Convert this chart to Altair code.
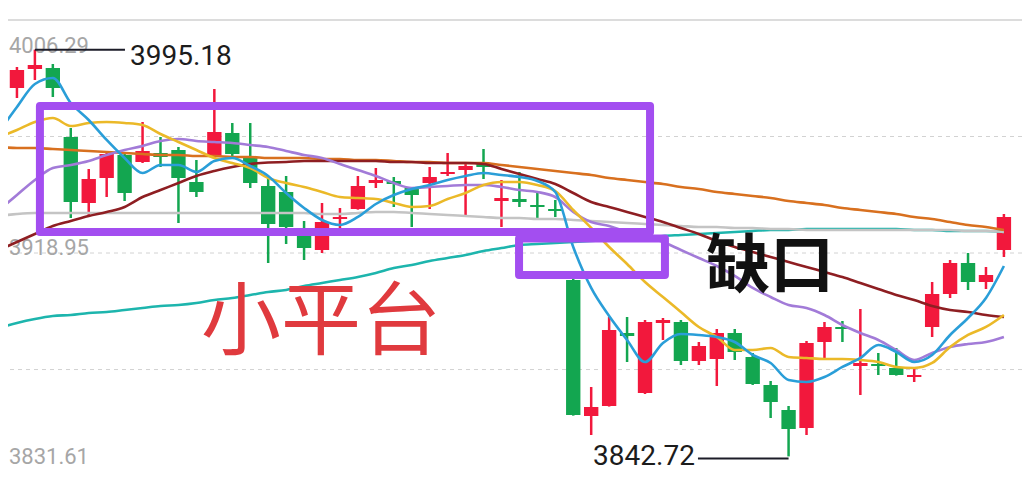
import altair as alt
import pandas as pd

# ---------------- candle data (index, OHLC) ----------------
opens = [3979.7, 3980.80, 3987.92, 3988.30, 3962.44, 3937.70, 3947.07, 3955.69, 3953.07, 3956.44,
         3957.56, 3945.57, 3955.32, 3963.94, 3954.57, 3944.07, 3941.82, 3928.33, 3920.08, 3931.70,
         3935.45, 3945.20, 3945.95, 3943.32, 3945.20, 3948.57, 3950.07, 3952.69, 3938.45, 3939.20,
         3936.95, 3935.45, 3908.84, 3857.86, 3861.61, 3888.97, 3866.48, 3892.72, 3893.10, 3878.48,
         3879.23, 3888.97, 3879.98, 3869.48, 3860.11, 3853.37, 3885.60, 3891.22, 3876.60, 3877.35,
         3875.86, 3872.48, 3891.22, 3903.59, 3915.21, 3908.09, 3920.08]
highs = [3983.0, 3988.67, 3995.18, 3989.80, 3965.81, 3950.44, 3956.50, 3956.82, 3968.06, 3962.44,
         3958.69, 3953.82, 3980.43, 3967.68, 3967.68, 3947.07, 3947.82, 3930.95, 3937.70, 3935.83,
         3947.82, 3950.82, 3947.44, 3943.70, 3951.19, 3956.44, 3952.30, 3957.94, 3946.32, 3949.32,
         3941.45, 3938.82, 3909.50, 3868.73, 3894.97, 3894.97, 3893.85, 3894.60, 3893.85, 3885.60,
         3890.47, 3890.47, 3881.48, 3870.98, 3861.61, 3885.98, 3893.10, 3893.47, 3897.97, 3881.48,
         3883.35, 3876.23, 3908.09, 3916.33, 3918.96, 3913.71, 3933.58]
lows = [3976.3, 3977.05, 3983.80, 3977.43, 3932.08, 3932.45, 3939.95, 3938.45, 3952.70, 3951.19,
        3930.20, 3939.95, 3954.57, 3955.32, 3943.32, 3915.21, 3922.33, 3916.33, 3918.96, 3928.33,
        3935.20, 3943.32, 3936.20, 3928.70, 3935.45, 3947.82, 3933.20, 3946.69, 3928.70, 3936.20,
        3931.33, 3932.45, 3858.00, 3850.74, 3861.40, 3878.10, 3866.11, 3886.35, 3876.98, 3876.98,
        3869.11, 3878.85, 3869.50, 3857.11, 3842.72, 3850.74, 3879.60, 3885.60, 3865.74, 3873.23,
        3873.00, 3870.61, 3887.47, 3902.09, 3905.09, 3905.47, 3917.46]
closes = [3980.4, 3987.55, 3989.42, 3980.80, 3938.07, 3946.69, 3956.07, 3941.45, 3957.19, 3954.94,
          3947.07, 3941.82, 3964.31, 3956.07, 3945.20, 3929.83, 3928.70, 3920.83, 3930.58, 3932.45,
          3944.07, 3946.32, 3944.82, 3940.70, 3947.44, 3949.32, 3951.57, 3951.19, 3939.57, 3938.07,
          3936.20, 3934.70, 3858.24, 3861.24, 3890.10, 3887.85, 3893.10, 3893.85, 3878.48, 3884.10,
          3888.97, 3881.85, 3869.86, 3863.11, 3852.99, 3885.23, 3891.22, 3890.47, 3877.73, 3876.60,
          3873.23, 3873.23, 3903.59, 3915.21, 3908.09, 3910.71, 3932.45]

# ---------------- moving-average lines ----------------
ma5 = [3964.32, 3973.69, 3982.31, 3984.56, 3975.19, 3968.81, 3961.32, 3954.57, 3948.95, 3951.95,
       3951.95, 3949.32, 3953.45, 3954.57, 3951.57, 3947.83, 3941.45, 3935.83, 3931.33, 3929.46,
       3932.46, 3937.33, 3940.70, 3942.95, 3944.45, 3946.33, 3947.83, 3948.95, 3948.20, 3947.45,
       3945.95, 3941.83, 3921.21, 3905.85, 3895.35, 3886.36, 3878.11, 3885.23, 3888.61, 3888.23,
       3887.48, 3885.61, 3880.74, 3877.74, 3871.37, 3870.62, 3872.49, 3876.24, 3879.61, 3884.48,
       3881.86, 3878.11, 3880.74, 3888.23, 3894.60, 3902.10, 3914.09]
ma10 = [3962.44, 3965.07, 3968.06, 3969.56, 3966.57, 3967.69, 3968.06, 3967.69, 3966.94, 3963.57,
        3960.57, 3957.57, 3954.57, 3952.70, 3950.82, 3947.08, 3945.20, 3943.70, 3941.83, 3939.95,
        3939.58, 3939.20, 3937.71, 3936.21, 3936.58, 3939.20, 3941.45, 3944.45, 3945.58, 3945.58,
        3944.45, 3942.20, 3935.08, 3928.34, 3921.21, 3914.84, 3908.10, 3902.47, 3896.85, 3891.23,
        3887.48, 3882.61, 3882.61, 3883.36, 3879.99, 3879.61, 3879.24, 3879.24, 3878.86, 3878.11,
        3876.24, 3875.86, 3877.74, 3883.73, 3888.23, 3891.23, 3895.73]
ma20 = [3935.08, 3940.70, 3946.33, 3950.82, 3951.95, 3953.45, 3955.70, 3957.57, 3959.07, 3960.94,
        3961.69, 3960.94, 3960.57, 3960.19, 3959.44, 3958.69, 3957.20, 3955.70, 3954.57, 3952.32,
        3950.07, 3947.83, 3945.20, 3943.33, 3943.70, 3944.08, 3944.45, 3944.45, 3943.70, 3942.58,
        3941.83, 3939.95, 3934.33, 3930.58, 3929.09, 3926.84, 3925.34, 3923.09, 3920.09, 3917.09,
        3914.09, 3910.35, 3905.85, 3902.47, 3899.48, 3898.35, 3895.73, 3891.98, 3888.98, 3886.36,
        3882.61, 3878.86, 3881.49, 3883.73, 3884.86, 3885.61, 3887.48]
ma30 = [3920.09, 3923.09, 3926.09, 3929.09, 3930.96, 3932.83, 3934.33, 3936.21, 3939.95, 3942.58,
        3945.20, 3947.83, 3949.70, 3951.20, 3952.32, 3952.89, 3953.07, 3953.45, 3953.45, 3953.45,
        3953.45, 3953.45, 3953.07, 3953.07, 3952.70, 3952.70, 3952.70, 3952.32, 3950.45, 3948.57,
        3946.70, 3944.83, 3941.45, 3938.08, 3936.21, 3934.33, 3932.46, 3930.58, 3928.34, 3926.09,
        3923.46, 3921.21, 3919.34, 3917.47, 3915.59, 3913.72, 3911.84, 3909.97, 3907.72, 3905.47,
        3903.22, 3901.35, 3899.10, 3897.60, 3896.85, 3895.73, 3894.98]
ma60 = [3958.69, 3958.32, 3958.32, 3957.94, 3957.57, 3957.20, 3956.82, 3956.45, 3956.07, 3955.70,
        3955.70, 3955.32, 3955.32, 3954.95, 3954.95, 3954.57, 3954.57, 3954.57, 3954.20, 3954.20,
        3953.82, 3953.82, 3953.45, 3953.07, 3953.07, 3952.70, 3952.70, 3952.70, 3951.95, 3951.20,
        3950.45, 3949.70, 3948.95, 3948.20, 3947.08, 3946.33, 3945.58, 3944.83, 3943.70, 3942.95,
        3941.83, 3941.08, 3940.33, 3939.58, 3938.46, 3937.71, 3936.96, 3935.83, 3935.08, 3934.33,
        3933.58, 3932.46, 3931.71, 3930.58, 3929.46, 3928.71, 3927.59]
ma120 = [3932.83, 3933.58, 3933.96, 3933.96, 3933.96, 3933.96, 3933.96, 3933.96, 3933.96, 3933.96,
         3933.96, 3933.96, 3933.96, 3933.96, 3933.96, 3933.96, 3933.96, 3933.96, 3933.58, 3933.58,
         3933.96, 3934.33, 3934.33, 3933.96, 3933.58, 3933.21, 3932.83, 3932.46, 3932.08, 3932.08,
         3931.71, 3931.71, 3931.33, 3930.96, 3930.58, 3930.21, 3929.83, 3929.46, 3929.09, 3928.71,
         3928.71, 3928.34, 3928.34, 3927.96, 3927.96, 3927.59, 3927.59, 3927.59, 3927.59, 3927.59,
         3927.59, 3927.59, 3927.59, 3927.59, 3927.21, 3927.21, 3926.84]
ma250 = [3890.86, 3892.73, 3894.23, 3895.35, 3895.73, 3896.48, 3896.85, 3897.60, 3898.35, 3899.10,
         3899.48, 3900.23, 3901.35, 3902.10, 3903.22, 3904.35, 3905.10, 3906.60, 3907.72, 3908.85,
         3909.97, 3911.47, 3913.34, 3914.47, 3915.97, 3917.09, 3918.22, 3919.72, 3920.84, 3921.96,
         3922.34, 3922.71, 3923.09, 3923.46, 3923.84, 3924.21, 3924.59, 3925.34, 3925.71, 3926.09,
         3926.46, 3926.84, 3927.21, 3927.59, 3927.59, 3927.96, 3927.96, 3927.96, 3927.96, 3927.96,
         3927.96, 3927.59, 3927.59, 3927.21, 3927.21, 3927.21, 3926.84]

line_names = ["MA250", "MA120", "MA60", "MA30", "MA20", "MA10", "MA5"]
line_values = [ma250, ma120, ma60, ma30, ma20, ma10, ma5]
line_colors = ["#1db5ad", "#c4c4c4", "#d8701f", "#8e1e22", "#a27bd8", "#ebb928", "#2a9ed8"]

# ---------------- axis labels / grid ----------------
axis_labels = ["4006.29", "3918.95", "3831.61"]
axis_values = [4006.29, 3918.95, 3831.61]
grid_dashed = [3962.62, 3918.95, 3875.28]

# ---------------- annotations ----------------
box_left = [2.28, 28.98]
box_right = [36.28, 37.11]
box_top = [3974.06, 3924.40]
box_bottom = [3926.84, 3910.72]

note_texts = ["小平台", "缺口"]
note_x = [17.94, 42.96]
note_y = [3894.60, 3915.22]

extreme_idx = [2, 44]
extreme_val = [3995.18, 3842.72]
extreme_txt = ["3995.18", "3842.72"]

# ---------------- build ----------------
W, H = 1014, 464
step = 17.945
X0 = 9 / step
X1 = X0 + W / step
Y1 = 4006.29 + 12 / 2.668
Y0 = Y1 - H / 2.668

xs = alt.Scale(domain=[X0, X1], nice=False, zero=False)
ys = alt.Scale(domain=[Y0, Y1], nice=False, zero=False)

RED = "#f2183c"
GREEN = "#13a650"

n = len(opens)
cdf = pd.DataFrame({"i": list(range(n)), "o": opens, "h": highs, "l": lows, "c": closes})
cdf["dir"] = ["up" if c >= o else "down" for o, c in zip(opens, closes)]
col = alt.Color("dir:N", scale=alt.Scale(domain=["up", "down"], range=[RED, GREEN]), legend=None)

layers = []

# grid
top_df = pd.DataFrame({"v": [4006.29]})
layers.append(alt.Chart(top_df).mark_rule(color="#dcdcdc", strokeWidth=2).encode(
    y=alt.Y("v:Q", scale=ys, axis=None)))
gd = pd.DataFrame({"v": grid_dashed})
layers.append(alt.Chart(gd).mark_rule(color="#d2d2d2", strokeWidth=1, strokeDash=[4, 4]).encode(
    y=alt.Y("v:Q", scale=ys, axis=None)))

# axis labels
for txt, val, dy in zip(axis_labels, axis_values, [33, 2, -22]):
    d = pd.DataFrame({"v": [val], "t": [txt]})
    layers.append(alt.Chart(d).mark_text(align="left", baseline="alphabetic", dy=dy,
                                         font="Roboto", fontSize=22, color="#a6a6a6").encode(
        x=alt.value(1), y=alt.Y("v:Q", scale=ys, axis=None), text="t:N"))

# candles
layers.append(alt.Chart(cdf).mark_rule(strokeWidth=2.5, clip=True).encode(
    x=alt.X("i:Q", scale=xs, axis=None), y=alt.Y("l:Q", scale=ys, axis=None), y2="h:Q", color=col))
layers.append(alt.Chart(cdf).transform_calculate(
    xa="datum.i - 0.4", xb="datum.i + 0.4").mark_rect(clip=True).encode(
    x=alt.X("xa:Q", scale=xs, axis=None), x2="xb:Q",
    y=alt.Y("o:Q", scale=ys, axis=None), y2="c:Q", color=col))

# MA lines
for name, vals, colr in zip(line_names, line_values, line_colors):
    d = pd.DataFrame({"i": list(range(len(vals))), "v": vals})
    layers.append(alt.Chart(d).mark_line(color=colr, strokeWidth=2.6, clip=True,
                                         interpolate="monotone", strokeJoin="round").encode(
        x=alt.X("i:Q", scale=xs, axis=None), y=alt.Y("v:Q", scale=ys, axis=None)))

# boxes
bdf = pd.DataFrame({"x1": box_left, "x2": box_right, "y1": box_top, "y2": box_bottom})
layers.append(alt.Chart(bdf).mark_rect(fillOpacity=0, stroke="#a34ef0", strokeWidth=8,
                                       strokeJoin="round").encode(
    x=alt.X("x1:Q", scale=xs, axis=None), x2="x2:Q",
    y=alt.Y("y1:Q", scale=ys, axis=None), y2="y2:Q"))

# notes
n1 = pd.DataFrame({"x": [note_x[0]], "y": [note_y[0]], "t": [note_texts[0]]})
layers.append(alt.Chart(n1).mark_text(font="Noto Sans CJK SC", fontSize=80, color="#e03a3e",
                                      align="center", baseline="middle", dy=6).encode(
    x=alt.X("x:Q", scale=xs, axis=None), y=alt.Y("y:Q", scale=ys, axis=None), text="t:N"))
n2 = pd.DataFrame({"x": [note_x[1]], "y": [note_y[1]], "t": [note_texts[1]]})
layers.append(alt.Chart(n2).mark_text(font="Noto Sans CJK SC", fontSize=64, fontWeight="bold",
                                      color="#111111", align="center", baseline="middle", dy=5).encode(
    x=alt.X("x:Q", scale=xs, axis=None), y=alt.Y("y:Q", scale=ys, axis=None), text="t:N"))

# extreme value markers
hi = pd.DataFrame({"i": [extreme_idx[0]], "v": [extreme_val[0]], "t": [extreme_txt[0]]})
lo = pd.DataFrame({"i": [extreme_idx[1]], "v": [extreme_val[1]], "t": [extreme_txt[1]]})
layers.append(alt.Chart(hi).transform_calculate(ie="datum.i + 5.02").mark_rule(
    color="#1c1c28", strokeWidth=2).encode(
    x=alt.X("i:Q", scale=xs, axis=None), x2="ie:Q", y=alt.Y("v:Q", scale=ys, axis=None)))
layers.append(alt.Chart(hi).transform_calculate(it="datum.i + 5.3").mark_text(
    align="left", baseline="alphabetic", dy=15, font="Roboto", fontSize=28, color="#1c1c1c").encode(
    x=alt.X("it:Q", scale=xs, axis=None), y=alt.Y("v:Q", scale=ys, axis=None), text="t:N"))
layers.append(alt.Chart(lo).transform_calculate(ie="datum.i - 5.05").mark_rule(
    color="#1c1c28", strokeWidth=2, yOffset=2).encode(
    x=alt.X("i:Q", scale=xs, axis=None), x2="ie:Q", y=alt.Y("v:Q", scale=ys, axis=None)))
layers.append(alt.Chart(lo).transform_calculate(it="datum.i - 5.22").mark_text(
    align="right", baseline="alphabetic", dy=9, font="Roboto", fontSize=28, color="#1c1c1c").encode(
    x=alt.X("it:Q", scale=xs, axis=None), y=alt.Y("v:Q", scale=ys, axis=None), text="t:N"))

chart = alt.layer(*layers).properties(
    width=W, height=H, padding=0, background="white",
    autosize=alt.AutoSizeParams(type="none"),
).configure_view(strokeWidth=0)

chart.save("out.html", embed_options={"renderer": "svg", "actions": False})
